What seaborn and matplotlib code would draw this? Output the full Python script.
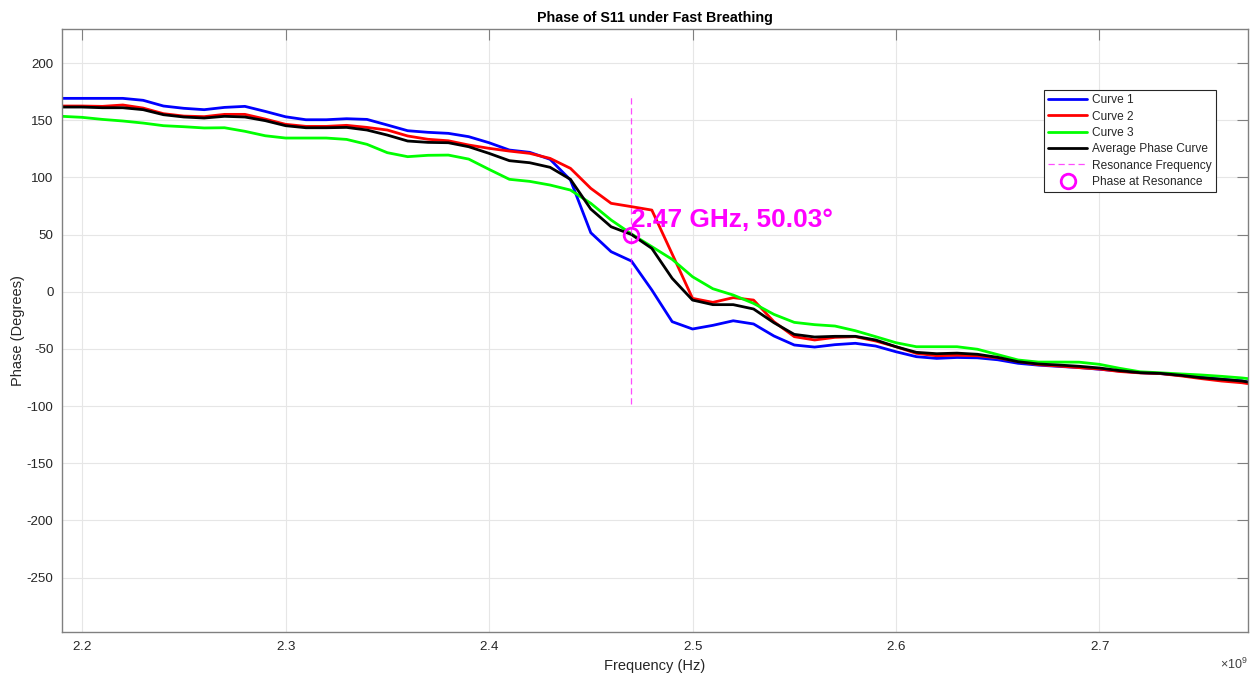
import numpy as np
import pandas as pd
import matplotlib
matplotlib.use("Agg")
import matplotlib.pyplot as plt
import seaborn as sns

# ---------------- data ----------------
freq_ghz = [2.19, 2.20, 2.21, 2.22, 2.23, 2.24, 2.25, 2.26, 2.27, 2.28,
            2.29, 2.30, 2.31, 2.32, 2.33, 2.34, 2.35, 2.36, 2.37, 2.38,
            2.39, 2.40, 2.41, 2.42, 2.43, 2.44, 2.45, 2.46, 2.47, 2.48,
            2.49, 2.50, 2.51, 2.52, 2.53, 2.54, 2.55, 2.56, 2.57, 2.58,
            2.59, 2.60, 2.61, 2.62, 2.63, 2.64, 2.65, 2.66, 2.67, 2.68,
            2.69, 2.70, 2.71, 2.72, 2.73, 2.74, 2.75, 2.76, 2.77, 2.773]

curve1 = [169.1, 169.1, 169.1, 169.1, 167.4, 162.4, 160.4, 159.2, 161.2, 162.1,
          157.7, 153.0, 150.4, 150.4, 151.3, 150.7, 145.8, 140.8, 139.4, 138.5,
          135.6, 130.3, 123.9, 121.9, 115.8, 97.7, 51.6, 35.0, 26.8, 1.5,
          -26.2, -32.6, -29.4, -25.4, -28.2, -38.7, -46.6, -48.4, -46.3, -45.1,
          -47.5, -52.5, -56.8, -58.3, -57.5, -57.8, -59.5, -62.6, -64.2, -65.3,
          -66.3, -67.8, -69.4, -70.8, -71.6, -73.2, -74.8, -76.6, -78.0, -79.0]

curve2 = [162.4, 162.4, 162.1, 163.3, 160.6, 155.7, 153.6, 153.1, 155.1, 155.1,
          151.0, 146.4, 144.6, 144.6, 145.5, 143.7, 141.4, 136.2, 133.3, 132.0,
          128.3, 125.4, 123.0, 121.0, 116.6, 107.9, 90.4, 77.3, 74.4, 71.4,
          33.0, -5.8, -9.3, -5.2, -7.3, -26.2, -39.3, -42.2, -39.9, -39.3,
          -43.1, -48.1, -53.9, -56.0, -55.5, -56.0, -57.8, -61.0, -63.8, -65.0,
          -66.4, -67.6, -69.8, -71.0, -71.6, -73.6, -76.0, -78.1, -79.6, -80.4]

curve3 = [153.4, 152.5, 150.7, 149.3, 147.5, 145.2, 144.3, 143.2, 143.4, 140.3,
          136.4, 134.4, 134.4, 134.4, 133.2, 128.9, 121.6, 118.1, 119.3, 119.5,
          116.0, 107.0, 98.3, 96.5, 93.3, 88.9, 77.3, 62.7, 50.5, 39.4,
          28.3, 13.1, 2.6, -2.9, -10.2, -19.8, -26.8, -28.8, -30.0, -34.1,
          -39.3, -44.6, -48.1, -48.1, -48.1, -50.3, -55.0, -59.7, -61.5, -61.5,
          -61.6, -63.5, -67.0, -70.0, -70.9, -71.9, -72.8, -74.0, -75.4, -76.0]

average = [161.5, 161.5, 160.9, 160.9, 159.2, 154.8, 152.8, 151.9, 153.4, 152.8,
           149.6, 145.2, 143.4, 143.4, 143.7, 141.4, 137.0, 131.8, 130.6, 130.3,
           126.8, 121.0, 114.6, 112.8, 108.8, 98.3, 72.3, 56.8, 50.03, 37.9,
           11.7, -7.3, -11.3, -11.3, -15.1, -27.1, -37.3, -39.6, -39.0, -39.0,
           -42.2, -48.1, -53.0, -54.2, -53.7, -54.7, -57.4, -61.2, -63.2, -64.1,
           -65.2, -66.7, -69.0, -70.8, -71.4, -73.1, -75.2, -76.6, -78.1, -79.0]

res_freq_hz = 2.47e9
res_phase = 50.03
res_line_span = [-98.0, 173.0]
annot_phase = 63.0

y_ticks = [-250, -200, -150, -100, -50, 0, 50, 100, 150, 200]
x_ticks_ghz = [2.2, 2.3, 2.4, 2.5, 2.6, 2.7]

# ---------------- plotting ----------------
sns.set_style("white")
plt.rcParams['font.family'] = ['Liberation Sans', 'DejaVu Sans']
plt.rcParams['mathtext.fontset'] = 'custom'
plt.rcParams['mathtext.rm'] = 'Liberation Sans'
plt.rcParams['axes.unicode_minus'] = False

freq_hz = np.array(freq_ghz) * 1e9
df = pd.DataFrame({"f": freq_hz, "c1": curve1, "c2": curve2,
                   "c3": curve3, "avg": average})

fig = plt.figure(figsize=(12.6, 6.78), dpi=100)
ax = fig.add_axes([0.049, 0.0683, 0.9415, 0.8885])

lw = 2.0
sns.lineplot(data=df, x="f", y="c1", color="#0000ff", lw=lw, label="Curve 1", ax=ax)
sns.lineplot(data=df, x="f", y="c2", color="#ff0000", lw=lw, label="Curve 2", ax=ax)
sns.lineplot(data=df, x="f", y="c3", color="#00ff00", lw=lw, label="Curve 3", ax=ax)
sns.lineplot(data=df, x="f", y="avg", color="#000000", lw=lw,
             label="Average Phase Curve", ax=ax)
ax.plot([res_freq_hz, res_freq_hz], res_line_span, color="#ff00ff", lw=0.9,
        ls=(0, (5, 3)), alpha=0.7, label="Resonance Frequency")
ax.plot([res_freq_hz], [res_phase], ls="none", marker="o", ms=10.5,
        mfc="none", mec="#ff00ff", mew=2.0, label="Phase at Resonance")

ax.text(res_freq_hz, annot_phase, "2.47 GHz, 50.03°", color="#ff00ff",
        fontsize=18.9, fontweight="bold", ha="left", va="center")

ax.set_xlim(2.19e9, 2.773e9)
ax.set_ylim(-297.3, 229.5)
ax.set_xticks(np.array(x_ticks_ghz) * 1e9)
ax.set_yticks(y_ticks)
ax.ticklabel_format(axis="x", style="sci", scilimits=(9, 9), useMathText=True)

ax.grid(True, color="#e6e6e6", lw=0.8)
ax.set_axisbelow(True)
for s in ax.spines.values():
    s.set_color("#808080")
    s.set_linewidth(1.0)
ax.tick_params(direction="in", length=8, width=0.8, color="#808080",
               labelsize=9.6, labelcolor="#262626", top=True, right=True,
               pad=6)
ax.xaxis.get_offset_text().set_fontsize(9)
ax.xaxis.get_offset_text().set_color("#404040")

ax.set_title("Phase of S11 under Fast Breathing", fontsize=10.3,
             fontweight="bold", color="#000000", pad=5)
ax.set_xlabel("Frequency (Hz)", fontsize=10.5, color="#262626", labelpad=4)
ax.set_ylabel("Phase (Degrees)", fontsize=10.5, color="#262626", labelpad=1)

leg = ax.legend(loc="upper right", bbox_to_anchor=(0.973, 0.899),
                fontsize=8.6, frameon=True, fancybox=False, framealpha=1,
                edgecolor="#262626", handlelength=3.3, labelspacing=0.36,
                borderpad=0.35, handletextpad=0.4, borderaxespad=0)
leg.get_frame().set_linewidth(0.8)

fig.savefig("out.png", dpi=100)
